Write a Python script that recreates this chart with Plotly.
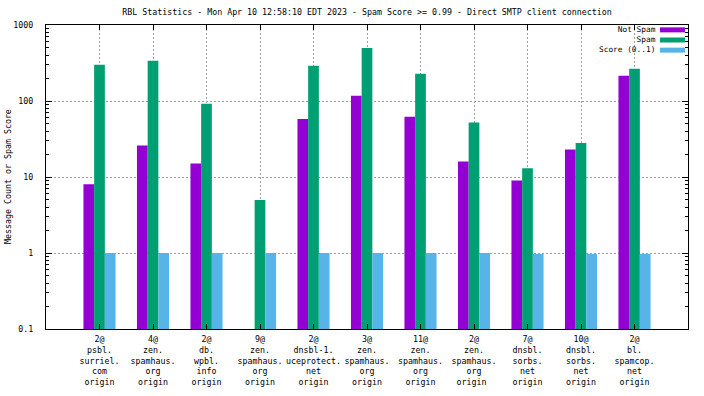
import plotly.graph_objects as go

categories = [
    "2@<br>psbl.<br>surriel.<br>com<br>origin",
    "4@<br>zen.<br>spamhaus.<br>org<br>origin",
    "2@<br>db.<br>wpbl.<br>info<br>origin",
    "9@<br>zen.<br>spamhaus.<br>org<br>origin",
    "2@<br>dnsbl-1.<br>uceprotect.<br>net<br>origin",
    "3@<br>zen.<br>spamhaus.<br>org<br>origin",
    "11@<br>zen.<br>spamhaus.<br>org<br>origin",
    "2@<br>zen.<br>spamhaus.<br>org<br>origin ",
    "7@<br>dnsbl.<br>sorbs.<br>net<br>origin",
    "10@<br>dnsbl.<br>sorbs.<br>net<br>origin",
    "2@<br>bl.<br>spamcop.<br>net<br>origin",
]
not_spam = [8, 26, 15, None, 58, 117, 62, 16, 9, 23, 215]
spam = [300, 338, 92, 5, 291, 500, 229, 52, 13, 28, 265]
score = [1, 1, 1, 1, 1, 1, 1, 1, 0.97, 0.97, 0.97]

series_names = ["Not Spam", "Spam", "Score (0..1)"]
series_colors = ["#9400D3", "#009E73", "#56B4E9"]
y_tickvals = [0.1, 1, 10, 100, 1000]
y_ticktext = ["0.1", "1", "10", "100", "1000"]

title_text = "RBL Statistics - Mon Apr 10 12:58:10 EDT 2023 - Spam Score >= 0.99 - Direct SMTP client connection"
ytitle = "Message Count or Spam Score"

FONT = "DejaVu Sans Mono"
FS = 8.3
LFS = 7.8

positions = list(range(1, len(categories) + 1))

fig = go.Figure()
for name, vals, col in zip(series_names, [not_spam, spam, score], series_colors):
    fig.add_trace(go.Bar(x=positions, y=vals, name=name,
                         marker=dict(color=col, line=dict(width=0)),
                         showlegend=False))

W, H = 704, 396
ml, mr, mt, mb = 46, 16, 25, 67
pw = W - ml - mr
ph = H - mt - mb

fig.update_layout(
    width=W, height=H,
    margin=dict(l=ml, r=mr, t=mt, b=mb, pad=0, autoexpand=False),
    paper_bgcolor="white", plot_bgcolor="white",
    barmode="group", bargap=0.4, bargroupgap=0,
    font=dict(family=FONT, size=FS, color="black"),
    title=dict(text=title_text, x=(ml + pw / 2) / W, xanchor="center",
               y=1 - 12 / H, yanchor="middle", yref="container",
               font=dict(family=FONT, size=FS, color="black")),
)

fig.update_xaxes(
    automargin=False,
    range=[0, len(categories) + 1],
    tickvals=positions, ticktext=categories,
    tickangle=0,
    showline=True, linecolor="black", linewidth=1, mirror="allticks",
    ticks="inside", ticklen=5, tickcolor="black",
    showgrid=True, gridcolor="#a0a0a0", griddash="2px,2px", gridwidth=1,
    zeroline=False,
    ticklabelstandoff=2,
    tickfont=dict(family=FONT, size=FS),
)
fig.update_yaxes(
    automargin=False,
    type="log", range=[-1, 3],
    tickvals=y_tickvals, ticktext=y_ticktext,
    showline=True, linecolor="black", linewidth=1, mirror="allticks",
    ticks="inside", ticklen=6, tickcolor="black",
    minor=dict(ticks="inside", ticklen=3, tickcolor="black", dtick="D1", showgrid=False),
    showgrid=True, gridcolor="#a0a0a0", griddash="2px,2px", gridwidth=1,
    zeroline=False,
    ticklabelstandoff=10,
    tickfont=dict(family=FONT, size=FS),
)

# y-axis title
fig.add_annotation(text=ytitle, xref="paper", yref="paper",
                   x=(8 - ml) / pw, y=0.5, textangle=-90, showarrow=False,
                   xanchor="center", yanchor="middle",
                   font=dict(family=FONT, size=FS))

# gnuplot-style legend: right-aligned text block, swatches on the right
line_h = LFS * 1.3
center_px = 40
fig.add_annotation(text="<br>".join(series_names), xref="paper", yref="paper",
                   x=(657 - ml) / pw, y=1 - (center_px - mt) / ph,
                   xanchor="right", yanchor="middle", align="right",
                   showarrow=False, borderpad=0,
                   font=dict(family=FONT, size=LFS))
for i, col in enumerate(series_colors):
    ypx = center_px + (i - 1) * line_h
    fig.add_shape(type="rect", xref="paper", yref="paper",
                  x0=(660 - ml) / pw, x1=(685 - ml) / pw,
                  y0=1 - (ypx + 2.5 - mt) / ph, y1=1 - (ypx - 2.5 - mt) / ph,
                  fillcolor=col, line=dict(width=0))

fig.write_html("out.html",
               config={"displayModeBar": False},
               post_script="document.body.style.margin='0';document.body.style.overflow='hidden';")
